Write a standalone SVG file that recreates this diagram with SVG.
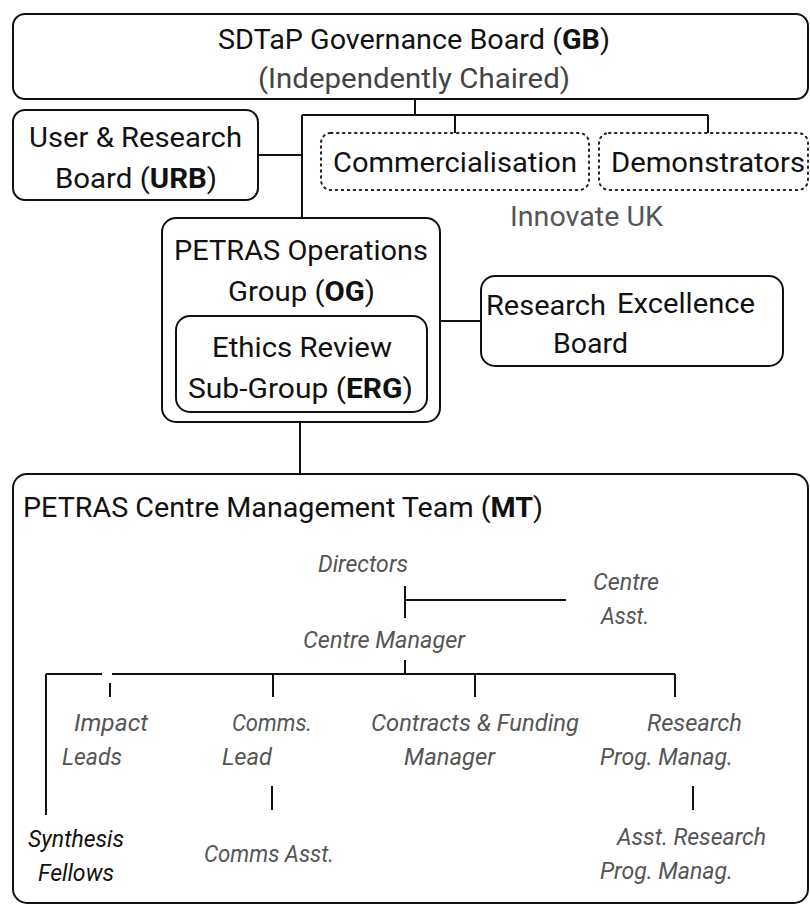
<svg xmlns="http://www.w3.org/2000/svg" width="810" height="905" viewBox="0 0 810 905">
  <style>
    .box { fill: #fff; stroke: #111; stroke-width: 2; }
    .dot { fill: #fff; stroke: #222; stroke-width: 2; stroke-dasharray: 1.5 4.5; stroke-linecap: round; }
    .t { font-family: Roboto, "Liberation Sans", sans-serif; font-size: 28px; fill: #111; }
    .g { fill: #444; }
    .it { font-family: Roboto, "Liberation Sans", sans-serif; font-size: 24px; font-style: italic; fill: #555; }
    .blk { fill: #111; }
    .b { font-weight: bold; }
    .ln { stroke: #111; stroke-width: 2; fill: none; }
  </style>
  <rect width="810" height="905" fill="#fff"/>

  <g id="gb">
    <rect class="box" x="13" y="14" width="795" height="85" rx="12"/>
    <text class="t" x="218" y="49" textLength="392" lengthAdjust="spacingAndGlyphs">SDTaP Governance Board (<tspan class="b">GB</tspan>)</text>
    <text class="t g" x="258" y="88" textLength="312" lengthAdjust="spacingAndGlyphs">(Independently Chaired)</text>
  </g>

  <g id="urb">
    <rect class="box" x="13" y="110" width="245" height="90" rx="12"/>
    <text class="t" x="29" y="147" textLength="213" lengthAdjust="spacingAndGlyphs">User &amp; Research</text>
    <text class="t" x="55" y="188" textLength="162" lengthAdjust="spacingAndGlyphs">Board (<tspan class="b">URB</tspan>)</text>
  </g>

  <g id="commercialisation">
    <rect class="dot" x="321" y="133" width="268" height="57" rx="10"/>
    <text class="t" x="333" y="172" textLength="244" lengthAdjust="spacingAndGlyphs">Commercialisation</text>
  </g>

  <g id="demonstrators">
    <rect class="dot" x="599" y="133" width="209" height="57" rx="10"/>
    <text class="t" x="611" y="172" textLength="194" lengthAdjust="spacingAndGlyphs">Demonstrators</text>
  </g>

  <g id="innovate-uk">
    <text class="t" x="510" y="226" textLength="153" lengthAdjust="spacingAndGlyphs" style="fill:#555">Innovate UK</text>
  </g>

  <g id="og">
    <rect class="box" x="162" y="218" width="278" height="204" rx="14"/>
    <text class="t" x="174" y="260" textLength="254" lengthAdjust="spacingAndGlyphs">PETRAS Operations</text>
    <text class="t" x="228" y="301" textLength="147" lengthAdjust="spacingAndGlyphs">Group (<tspan class="b">OG</tspan>)</text>
  </g>

  <g id="erg">
    <rect class="box" x="176" y="316" width="251" height="96" rx="14"/>
    <text class="t" x="212" y="357" textLength="180" lengthAdjust="spacingAndGlyphs">Ethics Review</text>
    <text class="t" x="188" y="398" textLength="225" lengthAdjust="spacingAndGlyphs">Sub-Group (<tspan class="b">ERG</tspan>)</text>
  </g>

  <g id="reb">
    <rect class="box" x="481" y="276" width="302" height="90" rx="14"/>
    <text class="t" x="486" y="315" textLength="120" lengthAdjust="spacingAndGlyphs">Research</text>
    <text class="t" x="617" y="313" textLength="138" lengthAdjust="spacingAndGlyphs">Excellence</text>
    <text class="t" x="553" y="353" textLength="75" lengthAdjust="spacingAndGlyphs">Board</text>
  </g>

  <g id="mt">
    <rect class="box" x="13" y="474" width="795" height="429" rx="14"/>
    <text class="t" x="23" y="517" textLength="520" lengthAdjust="spacingAndGlyphs">PETRAS Centre Management Team (<tspan class="b">MT</tspan>)</text>
  </g>

  <g id="directors"><text class="it" x="318" y="572" textLength="90" lengthAdjust="spacingAndGlyphs">Directors</text></g>
  <g id="centre-asst">
    <text class="it" x="593" y="590" textLength="66" lengthAdjust="spacingAndGlyphs">Centre</text>
    <text class="it" x="601" y="624" textLength="48" lengthAdjust="spacingAndGlyphs">Asst.</text>
  </g>
  <g id="centre-manager"><text class="it" x="303" y="648" textLength="162" lengthAdjust="spacingAndGlyphs">Centre Manager</text></g>

  <g id="impact-leads">
    <text class="it" x="74" y="731" textLength="74" lengthAdjust="spacingAndGlyphs">Impact</text>
    <text class="it" x="62" y="765" textLength="60" lengthAdjust="spacingAndGlyphs">Leads</text>
  </g>
  <g id="comms-lead">
    <text class="it" x="232" y="731" textLength="80" lengthAdjust="spacingAndGlyphs">Comms.</text>
    <text class="it" x="222" y="765" textLength="50" lengthAdjust="spacingAndGlyphs">Lead</text>
  </g>
  <g id="contracts-funding">
    <text class="it" x="371" y="731" textLength="208" lengthAdjust="spacingAndGlyphs">Contracts &amp; Funding</text>
    <text class="it" x="404" y="765" textLength="91" lengthAdjust="spacingAndGlyphs">Manager</text>
  </g>
  <g id="research-prog">
    <text class="it" x="647" y="731" textLength="95" lengthAdjust="spacingAndGlyphs">Research</text>
    <text class="it" x="600" y="765" textLength="133" lengthAdjust="spacingAndGlyphs">Prog. Manag.</text>
  </g>
  <g id="synthesis-fellows">
    <text class="it blk" x="28" y="847" textLength="96" lengthAdjust="spacingAndGlyphs">Synthesis</text>
    <text class="it blk" x="38" y="881" textLength="76" lengthAdjust="spacingAndGlyphs">Fellows</text>
  </g>
  <g id="comms-asst"><text class="it" x="204" y="862" textLength="130" lengthAdjust="spacingAndGlyphs">Comms Asst.</text></g>
  <g id="asst-research-prog">
    <text class="it" x="617" y="845" textLength="149" lengthAdjust="spacingAndGlyphs">Asst. Research</text>
    <text class="it" x="600" y="879" textLength="133" lengthAdjust="spacingAndGlyphs">Prog. Manag.</text>
  </g>

  <!-- connectors, drawn last so they sit on top of the box fills -->
  <g id="connectors" class="ln">
    <path d="M415 99 V115 M302 115 H708 M455 115 V133 M708 115 V133"/>
    <path d="M258 155 H302 M302 115 V218"/>
    <path d="M440 321 H481"/>
    <path d="M300 422 V474"/>
    <path d="M405 586 V618 M405 600 H566"/>
    <path d="M405 660 V674 M112 674 H675 M46 674 H102 M46 674 V815"/>
    <path d="M110 683 V697 M273 674 V697 M475 674 V697 M675 674 V697"/>
    <path d="M272 786 V810 M693 786 V810"/>
  </g>
</svg>
